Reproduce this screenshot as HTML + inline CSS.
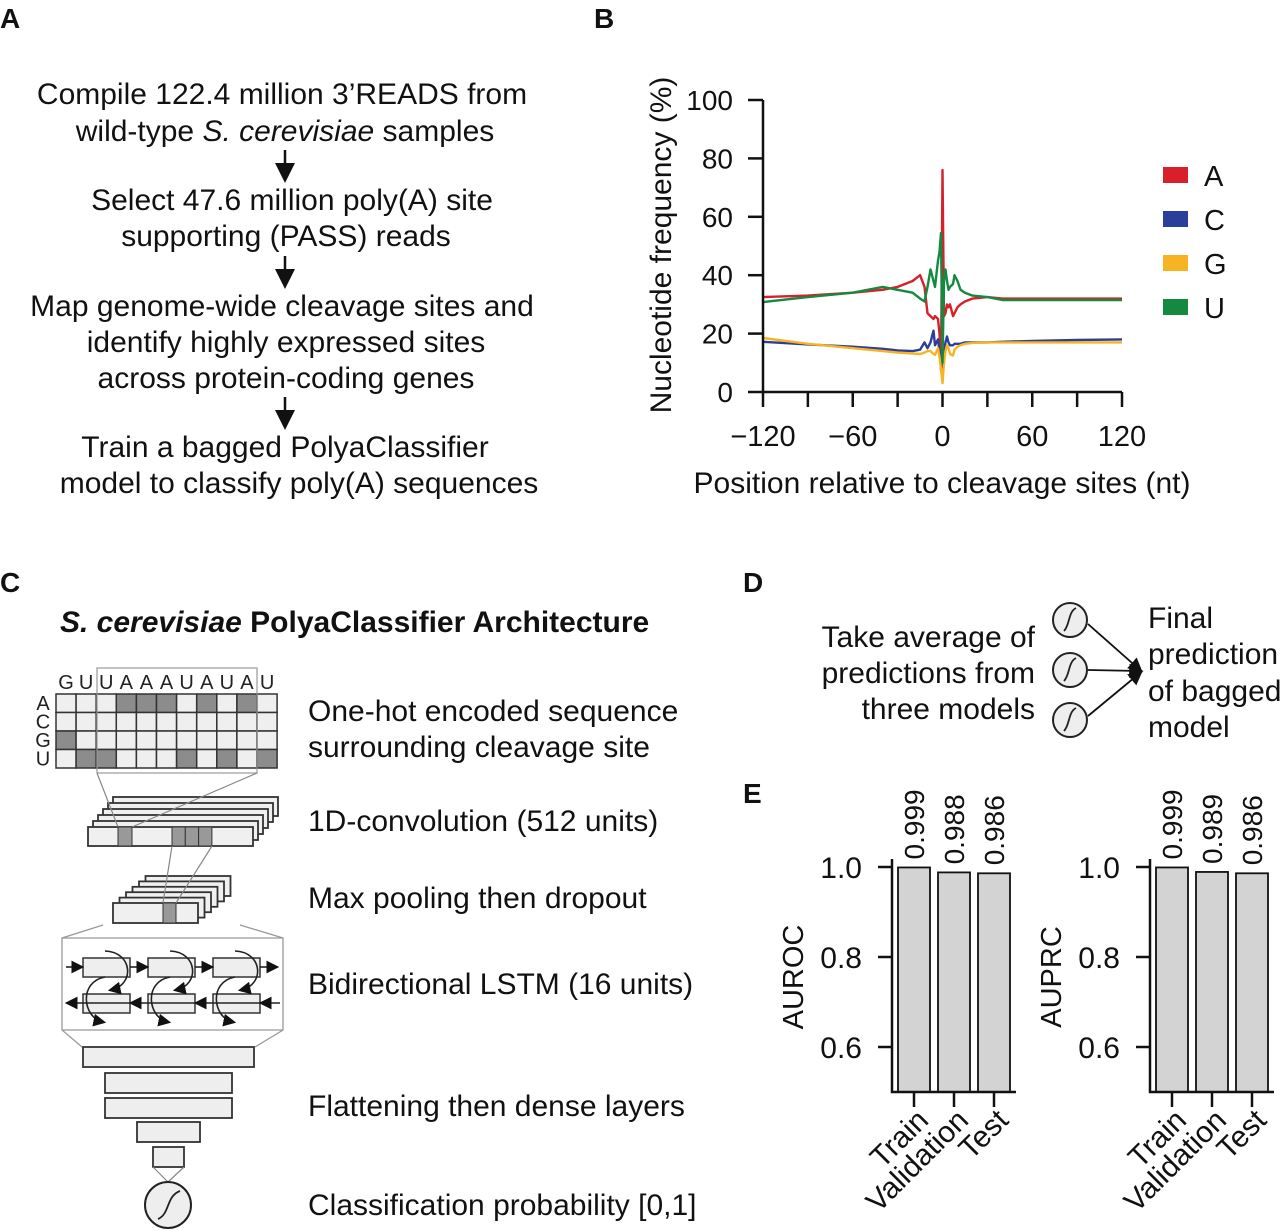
<!DOCTYPE html>
<html><head><meta charset="utf-8"><style>
body{margin:0;background:#fff}
svg{display:block;font-family:"Liberation Sans",Arial,sans-serif}
</style></head><body>
<svg id="fig" width="1280" height="1231" viewBox="0 0 1280 1231">
<defs>
<marker id="ah" markerWidth="8" markerHeight="8" refX="6" refY="4" orient="auto"><path d="M0,0 L8,4 L0,8 z" fill="#111"/></marker>
</defs>
<g font-weight="bold" font-size="28" fill="#111">
<text x="0" y="28">A</text>
<text x="594" y="28">B</text>
<text x="0" y="592">C</text>
<text x="743" y="592">D</text>
<text x="743" y="803">E</text>
</g>
<g font-size="30" fill="#111" text-anchor="middle">
<text x="282" y="104">Compile 122.4 million 3’READS from</text>
<text x="285" y="141">wild-type <tspan font-style="italic">S. cerevisiae</tspan> samples</text>
<text x="292" y="210">Select 47.6 million poly(A) site</text>
<text x="286" y="246">supporting (PASS) reads</text>
<text x="282" y="316">Map genome-wide cleavage sites and</text>
<text x="286" y="352">identify highly expressed sites</text>
<text x="286" y="388">across protein-coding genes</text>
<text x="285" y="457">Train a bagged PolyaClassifier</text>
<text x="299" y="493">model to classify poly(A) sequences</text>
<g stroke="#111" stroke-width="2.5" marker-end="url(#ah)">
<line x1="285" y1="150" x2="285" y2="178"/>
<line x1="285" y1="256" x2="285" y2="284"/>
<line x1="285" y1="397" x2="285" y2="425"/>
</g>
</g>
<g id="chartB"></g>
<text x="60" y="632" font-size="30" font-weight="bold" fill="#111"><tspan font-style="italic">S. cerevisiae</tspan> PolyaClassifier Architecture</text>
<g id="arch"></g>
<g font-size="30" fill="#111">
<text x="308" y="721">One-hot encoded sequence</text>
<text x="308" y="757">surrounding cleavage site</text>
<text x="308" y="831">1D-convolution (512 units)</text>
<text x="308" y="908">Max pooling then dropout</text>
<text x="308" y="994">Bidirectional LSTM (16 units)</text>
<text x="308" y="1116">Flattening then dense layers</text>
<text x="308" y="1215">Classification probability [0,1]</text>
</g>
<g font-size="30" fill="#111">
<text x="1035" y="647" text-anchor="end">Take average of</text>
<text x="1035" y="683" text-anchor="end">predictions from</text>
<text x="1035" y="719" text-anchor="end">three models</text>
<text x="1148" y="628">Final</text>
<text x="1148" y="664">prediction</text>
<text x="1148" y="701">of bagged</text>
<text x="1148" y="737">model</text>
<g fill="#eee" stroke="#222" stroke-width="2">
<circle cx="1070" cy="620" r="17"/><circle cx="1070" cy="670" r="17"/><circle cx="1070" cy="720" r="17"/>
</g>
<g fill="none" stroke="#222" stroke-width="1.8">
<path d="M1064,631 C1070,625 1068,612 1076,608"/><path d="M1064,681 C1070,675 1068,662 1076,658"/><path d="M1064,731 C1070,725 1068,712 1076,708"/>
</g>
<g stroke="#111" stroke-width="1.8" marker-end="url(#ah)">
<line x1="1088" y1="624" x2="1140" y2="670"/>
<line x1="1088" y1="670" x2="1140" y2="671"/>
<line x1="1088" y1="716" x2="1140" y2="673"/>
</g>
</g>
<g id="chartE"></g>
</svg>
<script>
const NS='http://www.w3.org/2000/svg';
function mk(p,tag,at,txt){const e=document.createElementNS(NS,tag);for(const k in at)e.setAttribute(k,at[k]);if(txt!==undefined)e.textContent=txt;p.appendChild(e);return e;}

const positions=[-120,-90,-60,-40,-30,-20,-15,-12,-10,-8,-6,-5,-3,-2,-1,0,1,2,3,4,5,7,8,10,12,15,20,30,40,60,90,120];
const freqA=[32.5,33,34,35,36,38,40,36,27,26,25,26,25,20,7.5,76,26,27,30,29,30,26,27,29,30,31,32,32.5,32,32,32,32];
const freqC=[17.2,16.3,15.5,14.8,14.2,14,14.5,17,15,17,21,16,18,14,10,5,14,17,19,17,16,16,16.5,16.5,16.5,17,17,17,17.2,17.5,17.8,18];
const freqG=[18.5,16.5,15,14,13.5,13.2,13,13.5,14,14,13,12.7,15,12,8,3,10,14,16,15,13,12.5,14.5,15.5,16,16.5,16.8,17,17,17,17,17];
const freqU=[30.8,32.5,34,36,35,34,32,31,36,42,38,36,45,48,54.5,10,38,42,38,35,36,37,40,38,35,34,33,32.5,31.5,31.5,31.5,31.5];
const seriesB=[['A',freqA,'#d7202a'],['C',freqC,'#2b3f9a'],['G',freqG,'#f8b323'],['U',freqU,'#15893f']];
const xTicksB=[-120,-90,-60,-30,0,30,60,90,120];
const xLabelsB=['−120','−60','0','60','120'];
const xLabelValsB=[-120,-60,0,60,120];
const yTicksB=[0,20,40,60,80,100];
(function(){
 const g=document.getElementById('chartB');
 const X=v=>763+(v+120)*(1122-763)/240, Y=v=>392-v*2.92;
 for(const [name,vals,col] of seriesB){
  const d=positions.map((p,i)=>(i?'L':'M')+X(p).toFixed(1)+','+Y(vals[i]).toFixed(1)).join(' ');
  const l=mk(g,'path',{d:d,fill:'none',stroke:col,'stroke-width':2.4,'stroke-linejoin':'round'});
  
  
 }
 const ax=mk(g,'path',{d:`M763,100 V392 H1122`,fill:'none',stroke:'#111','stroke-width':2.5});
 
 
 for(const t of yTicksB){
  mk(g,'line',{x1:748,x2:763,y1:Y(t),y2:Y(t),stroke:'#111','stroke-width':2.5});
  const tl=mk(g,'text',{x:733,y:Y(t)+10,'text-anchor':'end','font-size':28,fill:'#111'},String(t));
  
  
 }
 for(const t of xTicksB) mk(g,'line',{x1:X(t),x2:X(t),y1:392,y2:407,stroke:'#111','stroke-width':2.5});
 xLabelsB.forEach((s,i)=>{const tl=mk(g,'text',{x:X(xLabelValsB[i]),y:446,'text-anchor':'middle','font-size':29,fill:'#111'},s);
  
  });
 const xt=mk(g,'text',{x:942,y:493,'text-anchor':'middle','font-size':30,fill:'#111'},'Position relative to cleavage sites (nt)');
 
 
 const yt=mk(g,'text',{x:0,y:0,'text-anchor':'middle','font-size':30,fill:'#111',transform:'translate(671,245) rotate(-90)'},'Nucleotide frequency (%)');
 
 
 seriesB.forEach(([name,,col],i)=>{
  const le=mk(g,'g',{});
  
  
  mk(le,'rect',{x:1163,y:167+i*44,width:25,height:16,fill:col});
  mk(le,'text',{x:1204,y:186+i*44,'font-size':29,fill:'#111'},name);
 });
})();

(function(){
 const g=document.getElementById('arch');
 const seq=['G','U','U','A','A','A','U','A','U','A','U'];
 const rows=['A','C','G','U'];
 const x0=56,y0=694,cw=20.1,rh=18.5;
 seq.forEach((s,i)=>mk(g,'text',{x:x0+cw*i+cw/2,y:689,'text-anchor':'middle','font-size':20,fill:'#222'},s));
 rows.forEach((r,j)=>mk(g,'text',{x:43,y:y0+rh*j+16,'text-anchor':'middle','font-size':20,fill:'#222'},r));
 const grid=mk(g,'g',{});
 
 
 rows.forEach((r,j)=>seq.forEach((s,i)=>mk(grid,'rect',{x:x0+cw*i,y:y0+rh*j,width:cw,height:rh,fill:s===r?'#8c8c8c':'#efefef',stroke:'#333','stroke-width':1.5})));
 mk(g,'rect',{x:97,y:668,width:160,height:105,fill:'none',stroke:'#999','stroke-width':1.2});
 const L=(a,b,c,d,col,w)=>mk(g,'line',{x1:a,y1:b,x2:c,y2:d,stroke:col||'#888','stroke-width':w||1.2});
 for(let k=5;k>=0;k--) mk(g,'rect',{x:88+k*5,y:827-k*6,width:165,height:19,fill:'#f0f0f0',stroke:'#333','stroke-width':1.8});
 L(97,773,118,827);L(257,773,132,827);
 mk(g,'rect',{x:118,y:827,width:14,height:19,fill:'#999',stroke:'#333','stroke-width':1});
 for(let k=0;k<3;k++) mk(g,'rect',{x:172+k*13.3,y:827,width:13.3,height:19,fill:'#999',stroke:'#333','stroke-width':1});
 for(let k=5;k>=0;k--) mk(g,'rect',{x:113+k*6.5,y:903-k*5.4,width:85,height:20,fill:'#f0f0f0',stroke:'#333','stroke-width':1.8});
 mk(g,'rect',{x:163,y:903,width:13,height:20,fill:'#999',stroke:'#333','stroke-width':1});
 L(172,846,163,903);L(212,846,176,903);
 mk(g,'path',{d:'M103,925 L62,938 V1030 L82,1047 M240,925 L283,938 V1030 L255,1047 M62,938 H283 M62,1030 H283',fill:'none',stroke:'#999','stroke-width':1.3});
 const cx=[83,148,213];
 cx.forEach(x=>{mk(g,'rect',{x:x,y:958,width:47,height:19,fill:'#eee',stroke:'#333','stroke-width':1.5});
  mk(g,'rect',{x:x,y:994,width:47,height:19,fill:'#eee',stroke:'#333','stroke-width':1.5});
  mk(g,'path',{d:`M${x+22},951 C${x+50},952 ${x+52},985 ${x+28},990`,fill:'none',stroke:'#222','stroke-width':1.6,'marker-end':'url(#ah)'});
  mk(g,'path',{d:`M${x+22},977 C${x-5},982 ${x},1018 ${x+20},1022`,fill:'none',stroke:'#222','stroke-width':1.6,'marker-end':'url(#ah)'});});
 [[66,83],[130,148],[195,213],[260,278]].forEach(([a,b])=>mk(g,'line',{x1:a,y1:967,x2:b-2,y2:967,stroke:'#222','stroke-width':1.6,'marker-end':'url(#ah)'}));
 [[130,68],[195,132],[260,197],[280,262]].forEach(([a,b])=>mk(g,'line',{x1:a,y1:1003,x2:b,y2:1003,stroke:'#222','stroke-width':1.6,'marker-end':'url(#ah)'}));
 const dense=[[83,1047,171],[105,1073,127],[105,1098,127],[137,1122,63],[153,1147,31]];
 dense.forEach(([x,y,w])=>mk(g,'rect',{x:x,y:y,width:w,height:20,fill:'#eee',stroke:'#333','stroke-width':1.8}));
 L(153,1167,168,1182,'#888');L(184,1167,168,1182,'#888');
 mk(g,'circle',{cx:168,cy:1205,r:23,fill:'#eee',stroke:'#222','stroke-width':2});
 mk(g,'path',{d:'M158,1219 C170,1214 166,1196 180,1191',fill:'none',stroke:'#222','stroke-width':1.8});
})();

const categoriesE=['Train','Validation','Test'];
const aurocVals=[0.999,0.988,0.986];
const auprcVals=[0.999,0.989,0.986];
const aurocLabels=['0.999','0.988','0.986'];
const auprcLabels=['0.999','0.989','0.986'];
const yTicksE=[0.6,0.8,1.0];
(function(){
 const g=document.getElementById('chartE');
 function panel(ax0,title,vals,labels){
  const sub=mk(g,'g',{});
  
  
  const Y=v=>867+(1-v)*450, base=Y(0.5);
  vals.forEach((v,i)=>{const bx=ax0+6+i*40;
   const b=mk(sub,'rect',{x:bx,y:Y(v),width:32,height:base-Y(v),fill:'#d3d3d3',stroke:'#111','stroke-width':1.8});
   
   
   const vl=mk(sub,'text',{x:0,y:0,'font-size':28,fill:'#111',transform:`translate(${bx+26},${Y(v)-8}) rotate(-90)`},labels[i]);
   
   
   const tx=bx+16;
   mk(sub,'line',{x1:tx,x2:tx,y1:base,y2:base+15,stroke:'#111','stroke-width':2.5});
   const cl=mk(sub,'text',{x:0,y:0,'font-size':30,fill:'#111','text-anchor':'end',transform:`translate(${tx+16},${base+30}) rotate(-45)`},categoriesE[i]);
   
   
  });
  mk(sub,'path',{d:`M${ax0},${Y(1)-8} V${base} H${ax0+124}`,fill:'none',stroke:'#111','stroke-width':2.5});
  yTicksE.forEach(t=>{mk(sub,'line',{x1:ax0-14,x2:ax0,y1:Y(t),y2:Y(t),stroke:'#111','stroke-width':2.5});
   const tl=mk(sub,'text',{x:ax0-30,y:Y(t)+11,'text-anchor':'end','font-size':30,fill:'#111'},t.toFixed(1));
   
   });
  const yt=mk(sub,'text',{x:0,y:0,'text-anchor':'middle','font-size':29,fill:'#111',transform:`translate(${ax0-89},${977}) rotate(-90)`},title);
  
  
 }
 panel(892,'AUROC',aurocVals,aurocLabels);
 panel(1150,'AUPRC',auprcVals,auprcLabels);
})();
</script>
</body></html>
